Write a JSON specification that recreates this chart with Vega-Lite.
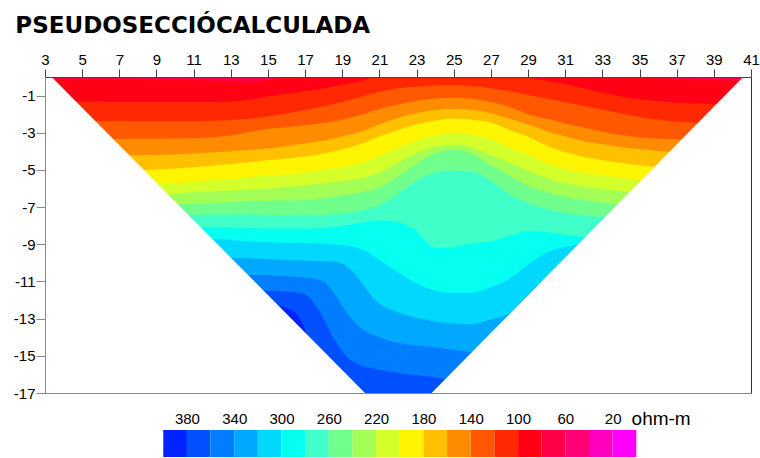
{
"$schema": "https://vega.github.io/schema/vega-lite/v6.json",
"padding": {"left": 13, "top": 15, "right": 0, "bottom": 0},
"title": {"text": "PSEUDOSECCIÓCALCULADA", "anchor": "start", "frame": "bounds", "font": "DejaVu Sans", "fontSize": 23, "fontWeight": "bold", "color": "#000000", "offset": 14, "dx": 2},
"config": {"view": {"stroke": null}, "axis": {"labelFont": "Liberation Sans", "labelColor": "#000000"}},
"bounds": "flush",
"spacing": 37,
"vconcat": [
{
"width": 706, "height": 316,
"resolve": {"axis": {"x": "independent", "y": "independent"}},
"layer": [
{
"data": {"values": [
{"b":17,"x":3,"y":0},{"b":17,"x":41,"y":0},
{"b":16,"x":3,"y":-0.12},{"b":16,"x":6,"y":-0.12},{"b":16,"x":9,"y":-0.14},{"b":16,"x":11,"y":-0.17},{"b":16,"x":13,"y":-0.22},{"b":16,"x":14,"y":-0.25},{"b":16,"x":14.8,"y":-0.2},{"b":16,"x":15.4,"y":-0.05},{"b":16,"x":16,"y":0.1},{"b":16,"x":35,"y":0.1},{"b":16,"x":35.8,"y":0},{"b":16,"x":36.5,"y":-0.08},{"b":16,"x":38,"y":-0.15},{"b":16,"x":40,"y":-0.2},{"b":16,"x":41,"y":-0.22},
{"b":15,"x":3,"y":-1.3},{"b":15,"x":5,"y":-1.32},{"b":15,"x":7,"y":-1.34},{"b":15,"x":9,"y":-1.35},{"b":15,"x":11,"y":-1.35},{"b":15,"x":13,"y":-1.32},{"b":15,"x":14,"y":-1.22},{"b":15,"x":15,"y":-1.05},{"b":15,"x":16,"y":-0.9},{"b":15,"x":17,"y":-0.75},{"b":15,"x":18,"y":-0.6},{"b":15,"x":19,"y":-0.42},{"b":15,"x":20,"y":-0.22},{"b":15,"x":21,"y":0.05},{"b":15,"x":22,"y":0.1},{"b":15,"x":28,"y":0.1},{"b":15,"x":29,"y":-0.05},{"b":15,"x":30,"y":-0.2},{"b":15,"x":31,"y":-0.37},{"b":15,"x":32,"y":-0.6},{"b":15,"x":33,"y":-0.85},{"b":15,"x":34,"y":-1.05},{"b":15,"x":35,"y":-1.2},{"b":15,"x":37,"y":-1.38},{"b":15,"x":39,"y":-1.45},{"b":15,"x":41,"y":-1.5},
{"b":14,"x":3,"y":-2.33},{"b":14,"x":5,"y":-2.35},{"b":14,"x":7,"y":-2.37},{"b":14,"x":9,"y":-2.38},{"b":14,"x":11,"y":-2.38},{"b":14,"x":13,"y":-2.33},{"b":14,"x":14,"y":-2.25},{"b":14,"x":15,"y":-2.12},{"b":14,"x":16,"y":-1.97},{"b":14,"x":17,"y":-1.78},{"b":14,"x":18,"y":-1.58},{"b":14,"x":19,"y":-1.35},{"b":14,"x":20,"y":-1.08},{"b":14,"x":21,"y":-0.8},{"b":14,"x":22,"y":-0.6},{"b":14,"x":23,"y":-0.52},{"b":14,"x":24,"y":-0.46},{"b":14,"x":25,"y":-0.45},{"b":14,"x":26,"y":-0.5},{"b":14,"x":27,"y":-0.6},{"b":14,"x":28,"y":-0.77},{"b":14,"x":29,"y":-0.95},{"b":14,"x":30,"y":-1.16},{"b":14,"x":31,"y":-1.36},{"b":14,"x":32,"y":-1.56},{"b":14,"x":33,"y":-1.76},{"b":14,"x":34,"y":-1.96},{"b":14,"x":35,"y":-2.15},{"b":14,"x":37,"y":-2.4},{"b":14,"x":39,"y":-2.5},{"b":14,"x":41,"y":-2.55},
{"b":13,"x":3,"y":-3.3},{"b":13,"x":7,"y":-3.32},{"b":13,"x":9,"y":-3.32},{"b":13,"x":11,"y":-3.3},{"b":13,"x":12,"y":-3.25},{"b":13,"x":13,"y":-3.15},{"b":13,"x":14,"y":-2.95},{"b":13,"x":15,"y":-2.8},{"b":13,"x":16,"y":-2.7},{"b":13,"x":17,"y":-2.6},{"b":13,"x":18,"y":-2.48},{"b":13,"x":19,"y":-2.3},{"b":13,"x":20,"y":-2.05},{"b":13,"x":21,"y":-1.72},{"b":13,"x":22,"y":-1.48},{"b":13,"x":23,"y":-1.28},{"b":13,"x":24,"y":-1.15},{"b":13,"x":25,"y":-1.12},{"b":13,"x":26,"y":-1.18},{"b":13,"x":27,"y":-1.35},{"b":13,"x":28,"y":-1.62},{"b":13,"x":29,"y":-2.0},{"b":13,"x":30,"y":-2.25},{"b":13,"x":31,"y":-2.5},{"b":13,"x":32,"y":-2.72},{"b":13,"x":33,"y":-2.95},{"b":13,"x":34,"y":-3.12},{"b":13,"x":35,"y":-3.25},{"b":13,"x":37,"y":-3.35},{"b":13,"x":41,"y":-3.4},
{"b":12,"x":3,"y":-4.2},{"b":12,"x":7,"y":-4.22},{"b":12,"x":9,"y":-4.2},{"b":12,"x":11,"y":-4.12},{"b":12,"x":13,"y":-4.0},{"b":12,"x":14,"y":-3.92},{"b":12,"x":15,"y":-3.85},{"b":12,"x":16,"y":-3.72},{"b":12,"x":17,"y":-3.58},{"b":12,"x":18,"y":-3.42},{"b":12,"x":19,"y":-3.2},{"b":12,"x":20,"y":-2.95},{"b":12,"x":21,"y":-2.55},{"b":12,"x":22,"y":-2.2},{"b":12,"x":23,"y":-1.95},{"b":12,"x":24,"y":-1.78},{"b":12,"x":25,"y":-1.72},{"b":12,"x":26,"y":-1.78},{"b":12,"x":27,"y":-1.95},{"b":12,"x":28,"y":-2.25},{"b":12,"x":29,"y":-2.55},{"b":12,"x":30,"y":-2.9},{"b":12,"x":31,"y":-3.2},{"b":12,"x":32,"y":-3.45},{"b":12,"x":33,"y":-3.62},{"b":12,"x":34,"y":-3.78},{"b":12,"x":35,"y":-3.88},{"b":12,"x":37,"y":-4.05},{"b":12,"x":41,"y":-4.1},
{"b":11,"x":3,"y":-5.0},{"b":11,"x":7,"y":-5.05},{"b":11,"x":9,"y":-4.98},{"b":11,"x":11,"y":-4.86},{"b":11,"x":13,"y":-4.68},{"b":11,"x":15,"y":-4.48},{"b":11,"x":16,"y":-4.38},{"b":11,"x":17,"y":-4.28},{"b":11,"x":18,"y":-4.12},{"b":11,"x":19,"y":-3.9},{"b":11,"x":20,"y":-3.6},{"b":11,"x":21,"y":-3.2},{"b":11,"x":22,"y":-2.85},{"b":11,"x":23,"y":-2.55},{"b":11,"x":24,"y":-2.35},{"b":11,"x":25,"y":-2.25},{"b":11,"x":26,"y":-2.3},{"b":11,"x":27,"y":-2.45},{"b":11,"x":28,"y":-2.85},{"b":11,"x":29,"y":-3.2},{"b":11,"x":30,"y":-3.7},{"b":11,"x":31,"y":-4.05},{"b":11,"x":32,"y":-4.3},{"b":11,"x":33,"y":-4.48},{"b":11,"x":34,"y":-4.62},{"b":11,"x":35,"y":-4.75},{"b":11,"x":37,"y":-4.9},{"b":11,"x":41,"y":-5.0},
{"b":10,"x":3,"y":-5.75},{"b":10,"x":9,"y":-5.75},{"b":10,"x":11,"y":-5.63},{"b":10,"x":13,"y":-5.48},{"b":10,"x":15,"y":-5.3},{"b":10,"x":17,"y":-5.15},{"b":10,"x":18,"y":-5.0},{"b":10,"x":19,"y":-4.85},{"b":10,"x":20,"y":-4.62},{"b":10,"x":21,"y":-4.25},{"b":10,"x":22,"y":-3.8},{"b":10,"x":23,"y":-3.45},{"b":10,"x":24,"y":-3.15},{"b":10,"x":25,"y":-3.0},{"b":10,"x":26,"y":-3.1},{"b":10,"x":27,"y":-3.35},{"b":10,"x":28,"y":-3.8},{"b":10,"x":29,"y":-4.2},{"b":10,"x":30,"y":-4.65},{"b":10,"x":31,"y":-4.95},{"b":10,"x":32,"y":-5.15},{"b":10,"x":33,"y":-5.28},{"b":10,"x":34,"y":-5.4},{"b":10,"x":35,"y":-5.5},{"b":10,"x":37,"y":-5.6},{"b":10,"x":41,"y":-5.7},
{"b":9,"x":3,"y":-6.3},{"b":9,"x":9,"y":-6.3},{"b":9,"x":11,"y":-6.2},{"b":9,"x":13,"y":-6.1},{"b":9,"x":15,"y":-6.0},{"b":9,"x":17,"y":-5.82},{"b":9,"x":19,"y":-5.6},{"b":9,"x":20,"y":-5.45},{"b":9,"x":21,"y":-5.15},{"b":9,"x":22,"y":-4.6},{"b":9,"x":23,"y":-4.1},{"b":9,"x":24,"y":-3.75},{"b":9,"x":25,"y":-3.65},{"b":9,"x":26,"y":-3.8},{"b":9,"x":27,"y":-4.2},{"b":9,"x":28,"y":-4.6},{"b":9,"x":29,"y":-5.05},{"b":9,"x":30,"y":-5.45},{"b":9,"x":31,"y":-5.72},{"b":9,"x":32,"y":-5.9},{"b":9,"x":33,"y":-6.02},{"b":9,"x":34,"y":-6.15},{"b":9,"x":35,"y":-6.25},{"b":9,"x":37,"y":-6.35},{"b":9,"x":41,"y":-6.4},
{"b":8,"x":3,"y":-6.85},{"b":8,"x":10,"y":-6.85},{"b":8,"x":12,"y":-6.78},{"b":8,"x":14,"y":-6.68},{"b":8,"x":16,"y":-6.64},{"b":8,"x":17,"y":-6.62},{"b":8,"x":18,"y":-6.52},{"b":8,"x":19,"y":-6.38},{"b":8,"x":20,"y":-6.22},{"b":8,"x":21,"y":-5.95},{"b":8,"x":22,"y":-5.35},{"b":8,"x":23,"y":-4.65},{"b":8,"x":24,"y":-4.1},{"b":8,"x":25,"y":-3.92},{"b":8,"x":26,"y":-4.15},{"b":8,"x":27,"y":-4.75},{"b":8,"x":28,"y":-5.3},{"b":8,"x":29,"y":-5.85},{"b":8,"x":30,"y":-6.2},{"b":8,"x":31,"y":-6.45},{"b":8,"x":32,"y":-6.62},{"b":8,"x":33,"y":-6.75},{"b":8,"x":34,"y":-6.85},{"b":8,"x":35,"y":-6.95},{"b":8,"x":37,"y":-7.0},{"b":8,"x":41,"y":-7.0},
{"b":7,"x":3,"y":-7.42},{"b":7,"x":11,"y":-7.42},{"b":7,"x":13,"y":-7.38},{"b":7,"x":15,"y":-7.42},{"b":7,"x":17,"y":-7.45},{"b":7,"x":18,"y":-7.42},{"b":7,"x":19,"y":-7.35},{"b":7,"x":20,"y":-7.2},{"b":7,"x":21,"y":-6.9},{"b":7,"x":22,"y":-6.3},{"b":7,"x":23,"y":-5.6},{"b":7,"x":24,"y":-5.15},{"b":7,"x":25,"y":-5.05},{"b":7,"x":26,"y":-5.1},{"b":7,"x":27,"y":-5.6},{"b":7,"x":28,"y":-6.3},{"b":7,"x":29,"y":-6.8},{"b":7,"x":30,"y":-7.1},{"b":7,"x":31,"y":-7.33},{"b":7,"x":32,"y":-7.45},{"b":7,"x":33,"y":-7.55},{"b":7,"x":34,"y":-7.6},{"b":7,"x":37,"y":-7.7},{"b":7,"x":41,"y":-7.7},
{"b":6,"x":3,"y":-8.1},{"b":6,"x":11,"y":-8.1},{"b":6,"x":13,"y":-8.1},{"b":6,"x":15,"y":-8.15},{"b":6,"x":17,"y":-8.15},{"b":6,"x":18,"y":-8.12},{"b":6,"x":19,"y":-8.0},{"b":6,"x":20,"y":-7.85},{"b":6,"x":21,"y":-7.72},{"b":6,"x":22,"y":-7.82},{"b":6,"x":22.5,"y":-8.0},{"b":6,"x":23,"y":-8.3},{"b":6,"x":23.5,"y":-8.85},{"b":6,"x":24,"y":-9.2},{"b":6,"x":25,"y":-9.15},{"b":6,"x":26,"y":-8.95},{"b":6,"x":27,"y":-8.85},{"b":6,"x":28,"y":-8.55},{"b":6,"x":29,"y":-8.3},{"b":6,"x":30,"y":-8.35},{"b":6,"x":31,"y":-8.5},{"b":6,"x":32,"y":-8.6},{"b":6,"x":34,"y":-8.7},{"b":6,"x":41,"y":-8.7},
{"b":5,"x":3,"y":-8.7},{"b":5,"x":12,"y":-8.72},{"b":5,"x":14,"y":-8.85},{"b":5,"x":16,"y":-8.92},{"b":5,"x":18,"y":-8.97},{"b":5,"x":19,"y":-9.05},{"b":5,"x":20,"y":-9.25},{"b":5,"x":20.5,"y":-9.5},{"b":5,"x":21,"y":-9.85},{"b":5,"x":22,"y":-10.5},{"b":5,"x":23,"y":-11.1},{"b":5,"x":24,"y":-11.5},{"b":5,"x":25,"y":-11.62},{"b":5,"x":26,"y":-11.6},{"b":5,"x":27,"y":-11.3},{"b":5,"x":28,"y":-10.85},{"b":5,"x":29,"y":-10.1},{"b":5,"x":30,"y":-9.45},{"b":5,"x":31,"y":-9.15},{"b":5,"x":32,"y":-9.0},{"b":5,"x":41,"y":-9.0},
{"b":4,"x":3,"y":-9.72},{"b":4,"x":13,"y":-9.72},{"b":4,"x":15,"y":-9.8},{"b":4,"x":17,"y":-9.88},{"b":4,"x":18.5,"y":-9.92},{"b":4,"x":19,"y":-10.05},{"b":4,"x":19.5,"y":-10.4},{"b":4,"x":20,"y":-11.0},{"b":4,"x":20.5,"y":-11.7},{"b":4,"x":21,"y":-12.2},{"b":4,"x":22,"y":-12.65},{"b":4,"x":23,"y":-12.95},{"b":4,"x":24,"y":-13.15},{"b":4,"x":25,"y":-13.27},{"b":4,"x":26,"y":-13.3},{"b":4,"x":27,"y":-13.05},{"b":4,"x":28,"y":-12.7},{"b":4,"x":28.5,"y":-12.2},{"b":4,"x":29,"y":-11.7},{"b":4,"x":29.5,"y":-11.2},{"b":4,"x":30,"y":-10.95},{"b":4,"x":31,"y":-10.9},{"b":4,"x":41,"y":-10.9},
{"b":3,"x":3,"y":-10.65},{"b":3,"x":14,"y":-10.65},{"b":3,"x":16,"y":-10.72},{"b":3,"x":17.5,"y":-10.85},{"b":3,"x":18,"y":-11.0},{"b":3,"x":18.5,"y":-11.55},{"b":3,"x":19,"y":-12.3},{"b":3,"x":19.5,"y":-13.0},{"b":3,"x":20,"y":-13.5},{"b":3,"x":21,"y":-14.0},{"b":3,"x":22,"y":-14.3},{"b":3,"x":23,"y":-14.45},{"b":3,"x":24,"y":-14.55},{"b":3,"x":25,"y":-14.68},{"b":3,"x":26,"y":-14.8},{"b":3,"x":27,"y":-15.0},{"b":3,"x":41,"y":-15.0},
{"b":2,"x":3,"y":-11.5},{"b":2,"x":15,"y":-11.5},{"b":2,"x":16.5,"y":-11.6},{"b":2,"x":17,"y":-11.7},{"b":2,"x":17.5,"y":-12.2},{"b":2,"x":18,"y":-13.0},{"b":2,"x":18.5,"y":-14.0},{"b":2,"x":19,"y":-14.75},{"b":2,"x":19.5,"y":-15.25},{"b":2,"x":20,"y":-15.5},{"b":2,"x":21,"y":-15.75},{"b":2,"x":22,"y":-15.92},{"b":2,"x":23,"y":-16.05},{"b":2,"x":24,"y":-16.15},{"b":2,"x":25,"y":-16.3},{"b":2,"x":41,"y":-16.3},
{"b":1,"x":3,"y":-14},{"b":1,"x":14,"y":-14},{"b":1,"x":15,"y":-12.25},{"b":1,"x":15.7,"y":-12.35},{"b":1,"x":16.2,"y":-12.52},{"b":1,"x":16.55,"y":-12.75},{"b":1,"x":16.8,"y":-13.15},{"b":1,"x":17.0,"y":-13.6},{"b":1,"x":17.3,"y":-14.4},{"b":1,"x":18,"y":-17.5},{"b":1,"x":41,"y":-17.5}
]},
"encoding": {
"x": {"field": "x", "type": "quantitative", "scale": {"domain": [3, 41], "nice": false, "zero": false},
 "axis": {"orient": "top", "values": [3,5,7,9,11,13,15,17,19,21,23,25,27,29,31,33,35,37,39,41], "title": null, "grid": false, "tickSize": 8, "labelPadding": 2, "labelFontSize": 15, "domainColor": "#444444", "tickColor": "#444444", "labelFlush": false, "labelOverlap": false, "zindex": 1}},
"y": {"field": "y", "type": "quantitative", "scale": {"domain": [-17, 0], "nice": false, "zero": false},
 "axis": {"orient": "left", "values": [-1,-3,-5,-7,-9,-11,-13,-15,-17], "title": null, "grid": false, "tickSize": 9, "labelPadding": 1, "labelFontSize": 15, "domainColor": "#888888", "tickColor": "#888888", "labelFlush": false, "labelOverlap": false, "zindex": 1, "labelExpr": "'-' + (-datum.value)"}},
"y2": {"datum": -17}
},
"layer": [
{"transform": [{"filter": "datum.b == 17"}], "mark": {"type": "area", "color": "#FF0046", "clip": true}},
{"transform": [{"filter": "datum.b == 16"}], "mark": {"type": "area", "color": "#FF0014", "interpolate": "monotone", "clip": true}},
{"transform": [{"filter": "datum.b == 15"}], "mark": {"type": "area", "color": "#FF2800", "interpolate": "monotone", "clip": true}},
{"transform": [{"filter": "datum.b == 14"}], "mark": {"type": "area", "color": "#FF5800", "interpolate": "monotone", "clip": true}},
{"transform": [{"filter": "datum.b == 13"}], "mark": {"type": "area", "color": "#FF8C00", "interpolate": "monotone", "clip": true}},
{"transform": [{"filter": "datum.b == 12"}], "mark": {"type": "area", "color": "#FFC000", "interpolate": "monotone", "clip": true}},
{"transform": [{"filter": "datum.b == 11"}], "mark": {"type": "area", "color": "#FFF500", "interpolate": "monotone", "clip": true}},
{"transform": [{"filter": "datum.b == 10"}], "mark": {"type": "area", "color": "#D5FF2A", "interpolate": "monotone", "clip": true}},
{"transform": [{"filter": "datum.b == 9"}], "mark": {"type": "area", "color": "#A3FF55", "interpolate": "monotone", "clip": true}},
{"transform": [{"filter": "datum.b == 8"}], "mark": {"type": "area", "color": "#70FF8C", "interpolate": "monotone", "clip": true}},
{"transform": [{"filter": "datum.b == 7"}], "mark": {"type": "area", "color": "#40FFC8", "interpolate": "monotone", "clip": true}},
{"transform": [{"filter": "datum.b == 6"}], "mark": {"type": "area", "color": "#05FFF0", "interpolate": "monotone", "clip": true}},
{"transform": [{"filter": "datum.b == 5"}], "mark": {"type": "area", "color": "#00D8FF", "interpolate": "monotone", "clip": true}},
{"transform": [{"filter": "datum.b == 4"}], "mark": {"type": "area", "color": "#00A8FF", "interpolate": "monotone", "clip": true}},
{"transform": [{"filter": "datum.b == 3"}], "mark": {"type": "area", "color": "#007EFF", "interpolate": "monotone", "clip": true}},
{"transform": [{"filter": "datum.b == 2"}], "mark": {"type": "area", "color": "#0050FF", "interpolate": "monotone", "clip": true}},
{"transform": [{"filter": "datum.b == 1"}], "mark": {"type": "area", "color": "#0022FF", "interpolate": "monotone", "clip": true}}
]
},
{
"data": {"values": [
{"m":"L","x":3,"y":0},{"m":"L","x":3.36,"y":0},{"m":"L","x":20.22,"y":-17},
{"m":"R","x":23.81,"y":-17},{"m":"R","x":40.58,"y":0},{"m":"R","x":41,"y":0}
]},
"mark": {"type": "area", "color": "#FFFFFF", "clip": true},
"encoding": {
"x": {"field": "x", "type": "quantitative", "axis": {"orient": "bottom", "labels": false, "ticks": false, "title": null, "grid": false, "domainColor": "#888888", "zindex": 1}},
"y": {"field": "y", "type": "quantitative", "stack": null, "axis": {"orient": "right", "labels": false, "ticks": false, "title": null, "grid": false, "domainColor": "#333333", "zindex": 1}},
"y2": {"datum": -17},
"detail": {"field": "m"}
}
}
]
},
{
"width": 706, "height": 27,
"layer": [
{
"data": {"values": [
{"c":1,"lo":380,"hi":400},{"c":2,"lo":360,"hi":380},{"c":3,"lo":340,"hi":360},{"c":4,"lo":320,"hi":340},{"c":5,"lo":300,"hi":320},
{"c":6,"lo":280,"hi":300},{"c":7,"lo":260,"hi":280},{"c":8,"lo":240,"hi":260},{"c":9,"lo":220,"hi":240},{"c":10,"lo":200,"hi":220},
{"c":11,"lo":180,"hi":200},{"c":12,"lo":160,"hi":180},{"c":13,"lo":140,"hi":160},{"c":14,"lo":120,"hi":140},{"c":15,"lo":100,"hi":120},
{"c":16,"lo":80,"hi":100},{"c":17,"lo":60,"hi":80},{"c":18,"lo":40,"hi":60},{"c":19,"lo":20,"hi":40},{"c":20,"lo":0,"hi":20}
]},
"mark": {"type": "rect"},
"encoding": {
"x": {"field": "hi", "type": "quantitative", "scale": {"domain": [-97, 500], "reverse": true, "nice": false, "zero": false},
 "axis": {"orient": "top", "values": [380,340,300,260,220,180,140,100,60,20], "title": null, "grid": false, "domain": false, "ticks": false, "tickSize": 0, "labelPadding": 4, "labelFontSize": 15, "labelFlush": false, "labelOverlap": false}},
"x2": {"field": "lo"},
"color": {"field": "c", "type": "ordinal", "legend": null,
 "scale": {"domain": [1,2,3,4,5,6,7,8,9,10,11,12,13,14,15,16,17,18,19,20],
 "range": ["#0022FF","#0050FF","#007EFF","#00A8FF","#00D8FF","#05FFF0","#40FFC8","#70FF8C","#A3FF55","#D5FF2A","#FFF500","#FFC000","#FF8C00","#FF5800","#FF2800","#FF0014","#FF0046","#FF0078","#FF00BE","#FF00FF"]}}
}
},
{
"data": {"values": [{"t": "ohm-m", "v": 4}]},
"mark": {"type": "text", "align": "left", "baseline": "alphabetic", "dy": -19, "fontSize": 19, "font": "Liberation Sans", "color": "#000000"},
"encoding": {
"x": {"field": "v", "type": "quantitative"},
"text": {"field": "t"}
}
}
]
}
]
}
